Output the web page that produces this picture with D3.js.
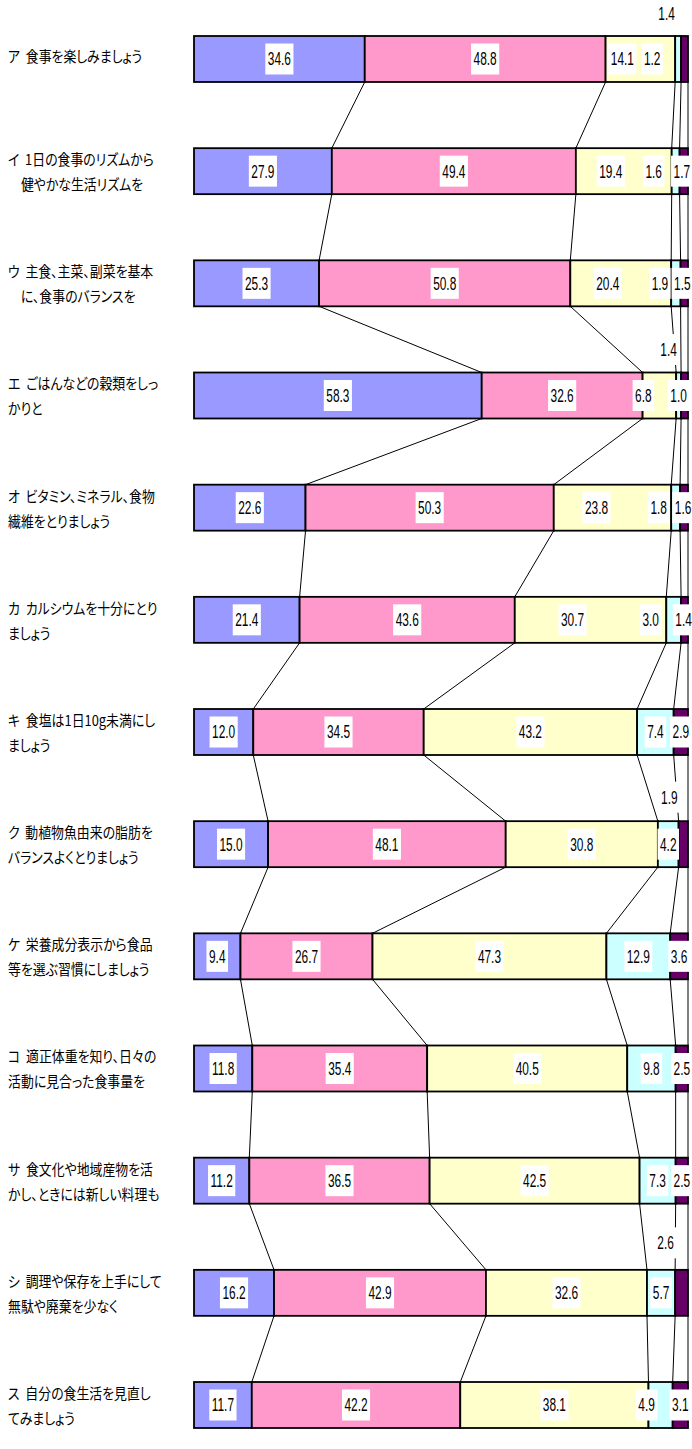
<!DOCTYPE html>
<html lang="ja">
<head>
<meta charset="UTF-8">
<title>食生活指針の項目別 実践状況</title>
<script src="https://d3js.org/d3.v7.min.js"></script>
<style>
  body { margin: 0; background: #ffffff; }
  svg { display: block; }
  .cat text {
    font-family: "Noto Sans CJK JP", sans-serif;
    font-size: 15px;
    fill: #000;
    white-space: pre;
    font-feature-settings: "palt";
  }
  .val text {
    font-family: "Liberation Sans", Arial, sans-serif;
    font-size: 18px;
    fill: #000;
  }
</style>
</head>
<body>
<svg id="chart" width="692" height="1449"></svg>
<script>
// item labels (line breaks as in the original)
const categories = [
  "ア  食事を楽しみましょう",
  "イ  1日の食事のリズムから\n　健やかな生活リズムを",
  "ウ  主食、主菜、副菜を基本\n　に、食事のバランスを",
  "エ  ごはんなどの穀類をしっ\nかりと",
  "オ  ビタミン、ミネラル、食物\n繊維をとりましょう",
  "カ  カルシウムを十分にとり\nましょう",
  "キ  食塩は1日10g未満にし\nましょう",
  "ク  動植物魚由来の脂肪を\nバランスよくとりましょう",
  "ケ  栄養成分表示から食品\n等を選ぶ習慣にしましょう",
  "コ  適正体重を知り、日々の\n活動に見合った食事量を",
  "サ  食文化や地域産物を活\nかし、ときには新しい料理も",
  "シ  調理や保存を上手にして\n無駄や廃棄を少なく",
  "ス  自分の食生活を見直し\nてみましょう"
];

// percentages per answer group (left to right)
const s1 = [34.6, 27.9, 25.3, 58.3, 22.6, 21.4, 12.0, 15.0, 9.4, 11.8, 11.2, 16.2, 11.7];
const s2 = [48.8, 49.4, 50.8, 32.6, 50.3, 43.6, 34.5, 48.1, 26.7, 35.4, 36.5, 42.9, 42.2];
const s3 = [14.1, 19.4, 20.4, 6.8, 23.8, 30.7, 43.2, 30.8, 47.3, 40.5, 42.5, 32.6, 38.1];
const s4 = [1.2, 1.6, 1.9, 1.0, 1.8, 3.0, 7.4, 4.2, 12.9, 9.8, 7.3, 5.7, 4.9];
const s5 = [1.4, 1.7, 1.5, 1.4, 1.6, 1.4, 2.9, 1.9, 3.6, 2.5, 2.5, 2.6, 3.1];

const keys = ["s1", "s2", "s3", "s4", "s5"];
const colors = ["#9999ff", "#ff99cc", "#ffffcc", "#ccffff", "#660066"];

// hand-placed labels for the thin segments (row-series): dx in px, above = px above bar top
const labelNudge = {
  "0-2": {dx: -18}, "0-3": {dx: -26}, "0-4": {dx: -18, above: 22},
  "1-2": {dx: -13}, "1-3": {dx: -22}, "1-4": {dx: -2},
  "2-2": {dx: -13}, "2-3": {dx: -16}, "2-4": {dx: -2},
  "3-2": {dx: -16}, "3-4": {dx: -16, above: 23},
  "4-2": {dx: -16}, "4-3": {dx: -17}, "4-4": {dx: -1},
  "5-2": {dx: -18}, "5-3": {dx: -23}, "5-4": {dx: -1},
  "7-4": {dx: -14, above: 24},
  "11-4": {dx: -16, above: 27},
  "12-3": {dx: -14}
};

const table = categories.map((c, i) => ({
  cat: c, s1: s1[i], s2: s2[i], s3: s3[i], s4: s4[i], s5: s5[i]
}));

const stacked = d3.stack().keys(keys).offset(d3.stackOffsetExpand)(table);

const svg = d3.select("#chart");

const x = d3.scaleLinear().domain([0, 1]).range([194, 688]);
const y = d3.scaleBand().domain(categories).range([36, 1428])
  .paddingInner(0.59).paddingOuter(0);
const bw = y.bandwidth();

// series lines between consecutive bars
const lines = svg.append("g").attr("class", "series-lines");
stacked.forEach(layer => {
  for (let i = 0; i < layer.length - 1; i++) {
    lines.append("line")
      .attr("x1", x(layer[i][1])).attr("y1", y(categories[i]) + bw)
      .attr("x2", x(layer[i + 1][1])).attr("y2", y(categories[i + 1]))
      .attr("stroke", "#000").attr("stroke-width", 1);
  }
});

// bars
const bars = svg.append("g").attr("class", "bars");
stacked.forEach((layer, j) => {
  bars.selectAll(null)
    .data(layer)
    .join("rect")
    .attr("x", d => x(d[0]))
    .attr("y", d => y(d.data.cat))
    .attr("width", d => x(d[1]) - x(d[0]))
    .attr("height", bw)
    .attr("fill", colors[j])
    .attr("stroke", "#000")
    .attr("stroke-width", 1.8);
});

// value labels
const sx = 0.66;
const vals = svg.append("g").attr("class", "val");
stacked.forEach((layer, j) => {
  layer.forEach((d, i) => {
    const nudge = labelNudge[i + "-" + j] || {};
    const cx = x((d[0] + d[1]) / 2) + (nudge.dx || 0);
    const cy = nudge.above ? y(d.data.cat) - nudge.above : y(d.data.cat) + bw / 2;
    const g = vals.append("g");
    const box = g.append("rect").attr("fill", "#fff");
    const t = g.append("text")
      .attr("text-anchor", "middle")
      .attr("dominant-baseline", "central")
      .attr("transform", `translate(${cx},${cy}) scale(${sx},1)`)
      .text(d.data[keys[j]].toFixed(1));
    const w = t.node().getComputedTextLength() * sx + 5;
    box.attr("x", cx - w / 2).attr("y", cy - 15.5).attr("width", w).attr("height", 31);
  });
});

// category labels on the left
const cats = svg.append("g").attr("class", "cat");
categories.forEach(c => {
  const parts = c.split("\n");
  const cy = y(c) + bw / 2;
  const lh = 25;
  parts.forEach((p, k) => {
    const ly = cy + (k - (parts.length - 1) / 2) * lh - (parts.length === 1 ? 3 : 0);
    cats.append("text")
      .attr("xml:space", "preserve")
      .attr("dominant-baseline", "central")
      .attr("transform", `translate(8,${ly}) scale(0.86,1)`)
      .text(p);
  });
});
</script>
</body>
</html>
